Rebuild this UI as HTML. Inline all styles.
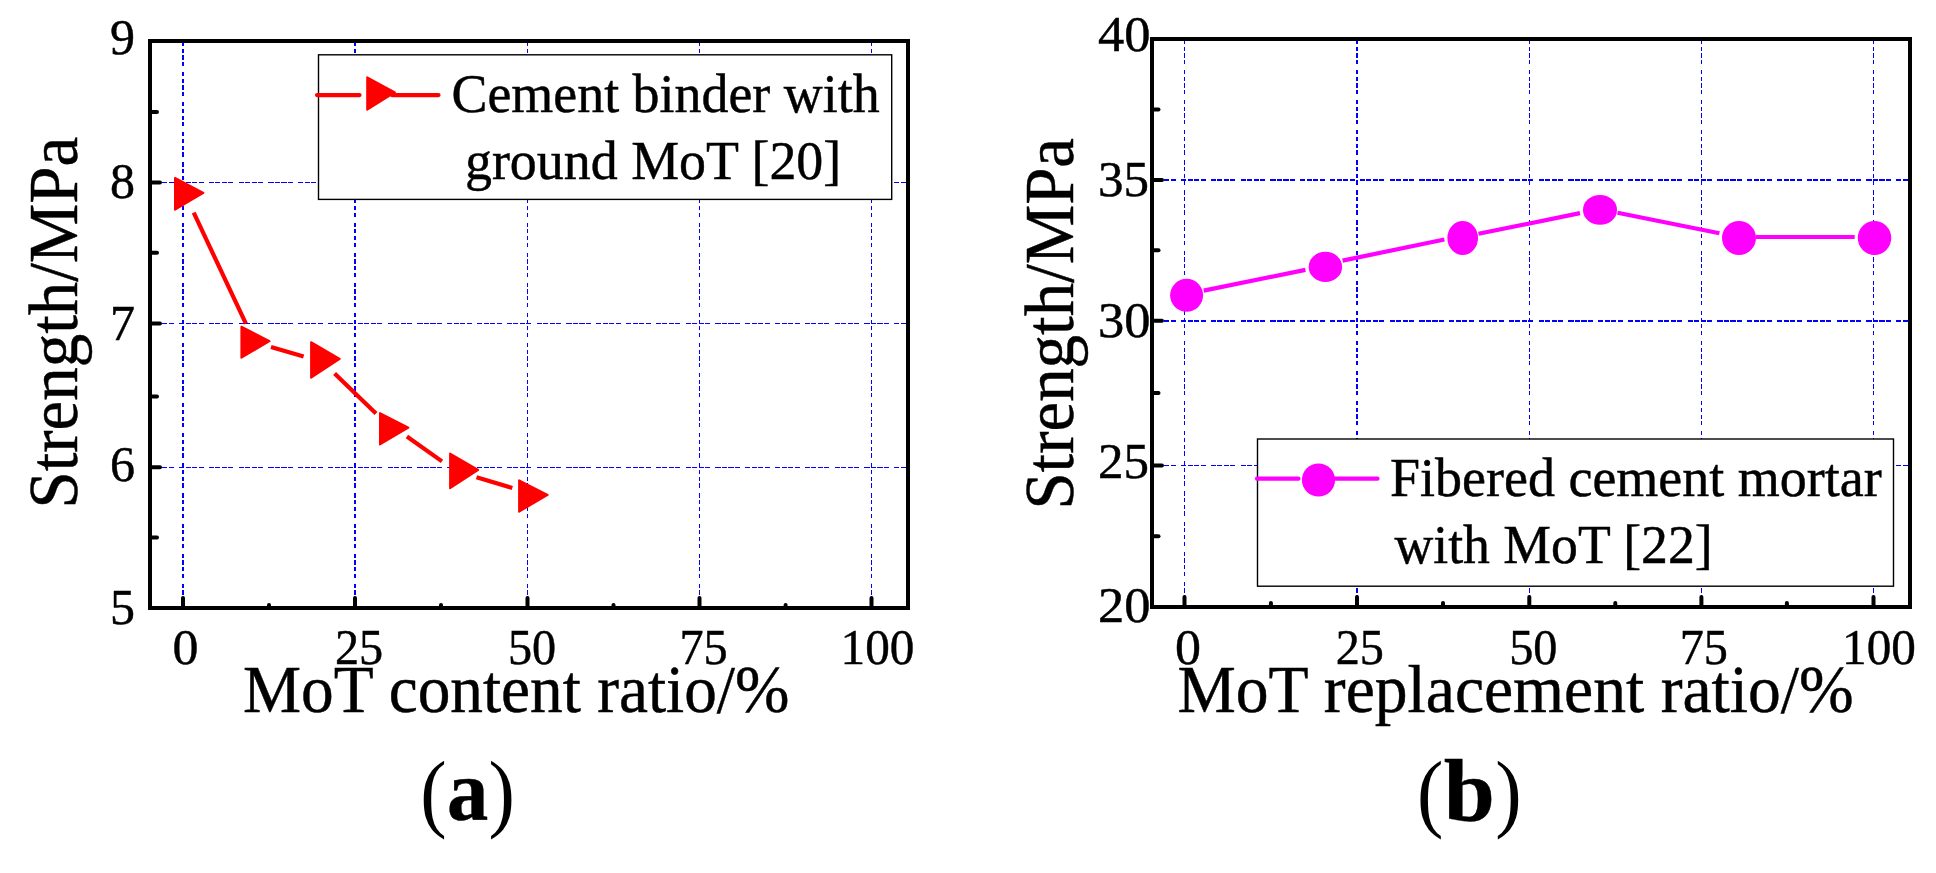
<!DOCTYPE html>
<html lang="en"><head><meta charset="utf-8"><title>Strength vs MoT ratio</title>
<style>
html,body{margin:0;padding:0;background:#fff;}
body{width:1936px;height:873px;overflow:hidden;}
svg{display:block;font-family:"Liberation Serif", serif;fill:#000;}
text{stroke:#000;stroke-width:0.45px;}
text{white-space:pre;}
</style></head><body>
<svg width="1936" height="873" viewBox="0 0 1936 873">
<rect width="1936" height="873" fill="#fff"/>
<g id="chartA">
<line x1="183" y1="43" x2="183" y2="606" stroke="#0000ff" stroke-width="2" stroke-dasharray="4.2 2.5 4.2 2.5 4.2 2.5 4.2 5.8" stroke-dashoffset="1.1" shape-rendering="crispEdges"/>
<line x1="355" y1="43" x2="355" y2="606" stroke="#0000ff" stroke-width="2" stroke-dasharray="4.2 2.5 4.2 2.5 4.2 2.5 4.2 5.8" stroke-dashoffset="1.1" shape-rendering="crispEdges"/>
<line x1="527.5" y1="43" x2="527.5" y2="606" stroke="#0000ff" stroke-width="1" stroke-dasharray="4.2 2.5 4.2 2.5 4.2 2.5 4.2 5.8" stroke-dashoffset="1.1" shape-rendering="crispEdges"/>
<line x1="699.5" y1="43" x2="699.5" y2="606" stroke="#0000ff" stroke-width="1" stroke-dasharray="4.2 2.5 4.2 2.5 4.2 2.5 4.2 5.8" stroke-dashoffset="1.1" shape-rendering="crispEdges"/>
<line x1="871.5" y1="43" x2="871.5" y2="606" stroke="#0000ff" stroke-width="1" stroke-dasharray="4.2 2.5 4.2 2.5 4.2 2.5 4.2 5.8" stroke-dashoffset="1.1" shape-rendering="crispEdges"/>
<line x1="152" y1="182.5" x2="906" y2="182.5" stroke="#0000ff" stroke-width="1" stroke-dasharray="5.1 1.4 5.1 1.4 5.1 1.4 5.1 5.2" stroke-dashoffset="2.8" shape-rendering="crispEdges"/>
<line x1="152" y1="323.5" x2="906" y2="323.5" stroke="#0000ff" stroke-width="1" stroke-dasharray="5.1 1.4 5.1 1.4 5.1 1.4 5.1 5.2" stroke-dashoffset="2.8" shape-rendering="crispEdges"/>
<line x1="152" y1="467.5" x2="906" y2="467.5" stroke="#0000ff" stroke-width="1" stroke-dasharray="5.1 1.4 5.1 1.4 5.1 1.4 5.1 5.2" stroke-dashoffset="2.8" shape-rendering="crispEdges"/>
<rect x="150" y="41" width="758" height="567" fill="none" stroke="#000" stroke-width="4" shape-rendering="crispEdges"/>
<line x1="183" y1="606" x2="183" y2="598" stroke="#000" stroke-width="4" stroke-linecap="round"/>
<line x1="355" y1="606" x2="355" y2="598" stroke="#000" stroke-width="4" stroke-linecap="round"/>
<line x1="527.5" y1="606" x2="527.5" y2="598" stroke="#000" stroke-width="4" stroke-linecap="round"/>
<line x1="699.5" y1="606" x2="699.5" y2="598" stroke="#000" stroke-width="4" stroke-linecap="round"/>
<line x1="871.5" y1="606" x2="871.5" y2="598" stroke="#000" stroke-width="4" stroke-linecap="round"/>
<line x1="269" y1="606" x2="269" y2="605" stroke="#000" stroke-width="4" stroke-linecap="round"/>
<line x1="441" y1="606" x2="441" y2="605" stroke="#000" stroke-width="4" stroke-linecap="round"/>
<line x1="613.5" y1="606" x2="613.5" y2="605" stroke="#000" stroke-width="4" stroke-linecap="round"/>
<line x1="785.6" y1="606" x2="785.6" y2="605" stroke="#000" stroke-width="4" stroke-linecap="round"/>
<line x1="152" y1="182.5" x2="160" y2="182.5" stroke="#000" stroke-width="4" stroke-linecap="round"/>
<line x1="152" y1="323.5" x2="160" y2="323.5" stroke="#000" stroke-width="4" stroke-linecap="round"/>
<line x1="152" y1="467.3" x2="160" y2="467.3" stroke="#000" stroke-width="4" stroke-linecap="round"/>
<line x1="152" y1="112" x2="157" y2="112" stroke="#000" stroke-width="4" stroke-linecap="round"/>
<line x1="152" y1="252.8" x2="157" y2="252.8" stroke="#000" stroke-width="4" stroke-linecap="round"/>
<line x1="152" y1="396.5" x2="157" y2="396.5" stroke="#000" stroke-width="4" stroke-linecap="round"/>
<line x1="152" y1="537.6" x2="157" y2="537.6" stroke="#000" stroke-width="4" stroke-linecap="round"/>
<text transform="translate(135,53.5) scale(1.0,1.02)" font-size="50" text-anchor="end" >9</text>
<text transform="translate(135,197.5) scale(1.0,1.02)" font-size="50" text-anchor="end" >8</text>
<text transform="translate(135,340) scale(1.0,1.02)" font-size="50" text-anchor="end" >7</text>
<text transform="translate(135,480.5) scale(1.0,1.02)" font-size="50" text-anchor="end" >6</text>
<text transform="translate(135,624) scale(1.0,1.02)" font-size="50" text-anchor="end" >5</text>
<text transform="translate(185.5,664.3) scale(1.04,1.02)" font-size="50" text-anchor="middle" >0</text>
<text transform="translate(359,664.3) scale(0.965,1.02)" font-size="50" text-anchor="middle" >25</text>
<text transform="translate(532,664.3) scale(0.965,1.02)" font-size="50" text-anchor="middle" >50</text>
<text transform="translate(703.5,664.3) scale(0.965,1.02)" font-size="50" text-anchor="middle" >75</text>
<text transform="translate(877.5,664.3) scale(0.985,1.02)" font-size="50" text-anchor="middle" >100</text>
<text transform="translate(243,711.5) scale(1.0,1.02)" font-size="65.3" text-anchor="start" >MoT content ratio/%</text>
<text transform="translate(77.4,508.5) rotate(-90) scale(1,1.03)" font-size="66.9">Strength/MPa</text>
<line x1="193.7" y1="212.7" x2="245.9" y2="323.6" stroke="#ff0000" stroke-width="4.2" stroke-linecap="butt"/>
<line x1="271" y1="347" x2="303.6" y2="356.5" stroke="#ff0000" stroke-width="4.2" stroke-linecap="butt"/>
<line x1="334.6" y1="373.5" x2="376" y2="413.4" stroke="#ff0000" stroke-width="4.2" stroke-linecap="butt"/>
<line x1="406.9" y1="436.5" x2="442" y2="461.4" stroke="#ff0000" stroke-width="4.2" stroke-linecap="butt"/>
<line x1="476.5" y1="477.3" x2="512.3" y2="487.9" stroke="#ff0000" stroke-width="4.2" stroke-linecap="butt"/>
<polygon points="175.0,178.0 203.4,192.85 175.0,209.7" fill="#ff0000" stroke="#ff0000" stroke-width="2.0" stroke-linejoin="round"/>
<polygon points="241.4,326.7 269.5,341.2 241.4,357.7" fill="#ff0000" stroke="#ff0000" stroke-width="2.0" stroke-linejoin="round"/>
<polygon points="311.1,342.2 339.7,358.95 311.1,377.7" fill="#ff0000" stroke="#ff0000" stroke-width="2.0" stroke-linejoin="round"/>
<polygon points="380.0,413.1 408.4,427.75 380.0,444.4" fill="#ff0000" stroke="#ff0000" stroke-width="2.0" stroke-linejoin="round"/>
<polygon points="450.1,453.5 478.2,469.85 450.1,488.2" fill="#ff0000" stroke="#ff0000" stroke-width="2.0" stroke-linejoin="round"/>
<polygon points="519.1,480.3 547.6,495.0 519.1,511.7" fill="#ff0000" stroke="#ff0000" stroke-width="2.0" stroke-linejoin="round"/>
<rect x="318.5" y="54.8" width="573.2" height="144.60000000000002" fill="#fff" stroke="#000" stroke-width="1.4"/>
<line x1="317" y1="95.1" x2="359.5" y2="95.1" stroke="#ff0000" stroke-width="4.2" stroke-linecap="round"/>
<line x1="392" y1="95.1" x2="438.5" y2="95.1" stroke="#ff0000" stroke-width="4.2" stroke-linecap="round"/>
<polygon points="367.2,77.3 394.9,92.5 367.2,109.7" fill="#ff0000" stroke="#ff0000" stroke-width="2.0" stroke-linejoin="round"/>
<text transform="translate(451.5,112) scale(1.0,1.02)" font-size="53.9" text-anchor="start" >Cement binder with</text>
<text transform="translate(451.5,178.5) scale(1.0,1.02)" font-size="53.9" text-anchor="start" > ground MoT [20]</text>
</g>
<g id="capA">
<text transform="translate(420.2,820.5) scale(0.92,1)" font-size="86.2" text-anchor="start" style="stroke:none">(</text>
<text transform="translate(447.1,820.4) scale(0.96,1)" font-size="86" text-anchor="start" font-weight="bold">a</text>
<text transform="translate(488.4,820.5) scale(0.92,1)" font-size="86.2" text-anchor="start" style="stroke:none">)</text>
</g>
<g id="chartB">
<line x1="1184.5" y1="41" x2="1184.5" y2="605" stroke="#0000ff" stroke-width="1" stroke-dasharray="4.2 2.5 4.2 2.5 4.2 2.5 4.2 5.8" stroke-dashoffset="1.1" shape-rendering="crispEdges"/>
<line x1="1357" y1="41" x2="1357" y2="605" stroke="#0000ff" stroke-width="2" stroke-dasharray="4.2 2.5 4.2 2.5 4.2 2.5 4.2 5.8" stroke-dashoffset="1.1" shape-rendering="crispEdges"/>
<line x1="1529.5" y1="41" x2="1529.5" y2="605" stroke="#0000ff" stroke-width="1" stroke-dasharray="4.2 2.5 4.2 2.5 4.2 2.5 4.2 5.8" stroke-dashoffset="1.1" shape-rendering="crispEdges"/>
<line x1="1701.5" y1="41" x2="1701.5" y2="605" stroke="#0000ff" stroke-width="1" stroke-dasharray="4.2 2.5 4.2 2.5 4.2 2.5 4.2 5.8" stroke-dashoffset="1.1" shape-rendering="crispEdges"/>
<line x1="1873.5" y1="41" x2="1873.5" y2="605" stroke="#0000ff" stroke-width="1" stroke-dasharray="4.2 2.5 4.2 2.5 4.2 2.5 4.2 5.8" stroke-dashoffset="1.1" shape-rendering="crispEdges"/>
<line x1="1154" y1="180" x2="1908" y2="180" stroke="#0000ff" stroke-width="2" stroke-dasharray="5.1 1.4 5.1 1.4 5.1 1.4 5.1 5.2" stroke-dashoffset="2.8" shape-rendering="crispEdges"/>
<line x1="1154" y1="321" x2="1908" y2="321" stroke="#0000ff" stroke-width="2" stroke-dasharray="5.1 1.4 5.1 1.4 5.1 1.4 5.1 5.2" stroke-dashoffset="2.8" shape-rendering="crispEdges"/>
<line x1="1154" y1="465.5" x2="1908" y2="465.5" stroke="#0000ff" stroke-width="1" stroke-dasharray="5.1 1.4 5.1 1.4 5.1 1.4 5.1 5.2" stroke-dashoffset="2.8" shape-rendering="crispEdges"/>
<rect x="1152" y="39" width="758" height="568" fill="none" stroke="#000" stroke-width="4" shape-rendering="crispEdges"/>
<line x1="1184.5" y1="605" x2="1184.5" y2="597" stroke="#000" stroke-width="4" stroke-linecap="round"/>
<line x1="1357" y1="605" x2="1357" y2="597" stroke="#000" stroke-width="4" stroke-linecap="round"/>
<line x1="1529.3" y1="605" x2="1529.3" y2="597" stroke="#000" stroke-width="4" stroke-linecap="round"/>
<line x1="1701.4" y1="605" x2="1701.4" y2="597" stroke="#000" stroke-width="4" stroke-linecap="round"/>
<line x1="1873.5" y1="605" x2="1873.5" y2="597" stroke="#000" stroke-width="4" stroke-linecap="round"/>
<line x1="1270.9" y1="605" x2="1270.9" y2="603" stroke="#000" stroke-width="4" stroke-linecap="round"/>
<line x1="1443" y1="605" x2="1443" y2="603" stroke="#000" stroke-width="4" stroke-linecap="round"/>
<line x1="1615.3" y1="605" x2="1615.3" y2="603" stroke="#000" stroke-width="4" stroke-linecap="round"/>
<line x1="1786.9" y1="605" x2="1786.9" y2="603" stroke="#000" stroke-width="4" stroke-linecap="round"/>
<line x1="1154" y1="180" x2="1162" y2="180" stroke="#000" stroke-width="4" stroke-linecap="round"/>
<line x1="1154" y1="320.8" x2="1162" y2="320.8" stroke="#000" stroke-width="4" stroke-linecap="round"/>
<line x1="1154" y1="465.4" x2="1162" y2="465.4" stroke="#000" stroke-width="4" stroke-linecap="round"/>
<line x1="1154" y1="109.4" x2="1158.5" y2="109.4" stroke="#000" stroke-width="4" stroke-linecap="round"/>
<line x1="1154" y1="250.3" x2="1158.5" y2="250.3" stroke="#000" stroke-width="4" stroke-linecap="round"/>
<line x1="1154" y1="393" x2="1158.5" y2="393" stroke="#000" stroke-width="4" stroke-linecap="round"/>
<line x1="1154" y1="536.2" x2="1158.5" y2="536.2" stroke="#000" stroke-width="4" stroke-linecap="round"/>
<text transform="translate(1150.5,50.5) scale(1.05,1.02)" font-size="50" text-anchor="end" >40</text>
<text transform="translate(1149,195.5) scale(1.02,1.02)" font-size="50" text-anchor="end" >35</text>
<text transform="translate(1150.5,337) scale(1.05,1.02)" font-size="50" text-anchor="end" >30</text>
<text transform="translate(1149,478) scale(1.02,1.02)" font-size="50" text-anchor="end" >25</text>
<text transform="translate(1150.5,621.5) scale(1.05,1.02)" font-size="50" text-anchor="end" >20</text>
<text transform="translate(1188,663.6) scale(1.04,1.02)" font-size="50" text-anchor="middle" >0</text>
<text transform="translate(1359.8,663.6) scale(0.965,1.02)" font-size="50" text-anchor="middle" >25</text>
<text transform="translate(1533.3,663.6) scale(0.965,1.02)" font-size="50" text-anchor="middle" >50</text>
<text transform="translate(1703.8,663.6) scale(0.965,1.02)" font-size="50" text-anchor="middle" >75</text>
<text transform="translate(1879,663.6) scale(0.985,1.02)" font-size="50" text-anchor="middle" >100</text>
<text transform="translate(1177.4,711.5) scale(1.0,1.02)" font-size="65.6" text-anchor="start" >MoT replacement ratio/%</text>
<text transform="translate(1072.5,509.6) rotate(-90) scale(1,1.03)" font-size="66.9">Strength/MPa</text>
<line x1="1203.7" y1="290.6" x2="1305.4" y2="269.9" stroke="#ff00ff" stroke-width="4.2" stroke-linecap="butt"/>
<line x1="1342.6" y1="260.6" x2="1444.4" y2="239.5" stroke="#ff00ff" stroke-width="4.2" stroke-linecap="butt"/>
<line x1="1478.5" y1="233.8" x2="1580" y2="213.1" stroke="#ff00ff" stroke-width="4.2" stroke-linecap="butt"/>
<line x1="1617.5" y1="212.7" x2="1719.4" y2="233.3" stroke="#ff00ff" stroke-width="4.2" stroke-linecap="butt"/>
<line x1="1756" y1="237" x2="1854.7" y2="237" stroke="#ff00ff" stroke-width="4.2" stroke-linecap="butt"/>
<ellipse cx="1186.6" cy="295.3" rx="16.5" ry="16.5" fill="#ff00ff"/>
<ellipse cx="1325.4" cy="266.9" rx="16.7" ry="15.1" fill="#ff00ff"/>
<ellipse cx="1462.7" cy="238" rx="15.3" ry="17" fill="#ff00ff"/>
<ellipse cx="1600" cy="209.9" rx="17" ry="14.9" fill="#ff00ff"/>
<ellipse cx="1739" cy="238" rx="17" ry="17" fill="#ff00ff"/>
<ellipse cx="1874.5" cy="238" rx="16.75" ry="17" fill="#ff00ff"/>
<rect x="1257.5" y="439" width="636.0" height="147.20000000000005" fill="#fff" stroke="#000" stroke-width="1.4"/>
<line x1="1257" y1="478.7" x2="1298.5" y2="478.7" stroke="#ff00ff" stroke-width="4.2" stroke-linecap="round"/>
<line x1="1330" y1="478.7" x2="1377.5" y2="478.7" stroke="#ff00ff" stroke-width="4.2" stroke-linecap="round"/>
<circle cx="1318.5" cy="480" r="16.6" fill="#ff00ff"/>
<text transform="translate(1390,496) scale(1.0,1.02)" font-size="54" text-anchor="start" >Fibered cement mortar</text>
<text transform="translate(1394.5,563) scale(1.0,1.02)" font-size="53.7" text-anchor="start" >with MoT [22]</text>
</g>
<g id="capB">
<text transform="translate(1417.1,820.5) scale(0.92,1)" font-size="86.2" text-anchor="start" style="stroke:none">(</text>
<text transform="translate(1443.7,821) scale(1.027,1)" font-size="89.5" text-anchor="start" font-weight="bold">b</text>
<text transform="translate(1495.25,820.5) scale(0.92,1)" font-size="86.2" text-anchor="start" style="stroke:none">)</text>
</g>
</svg></body></html>
